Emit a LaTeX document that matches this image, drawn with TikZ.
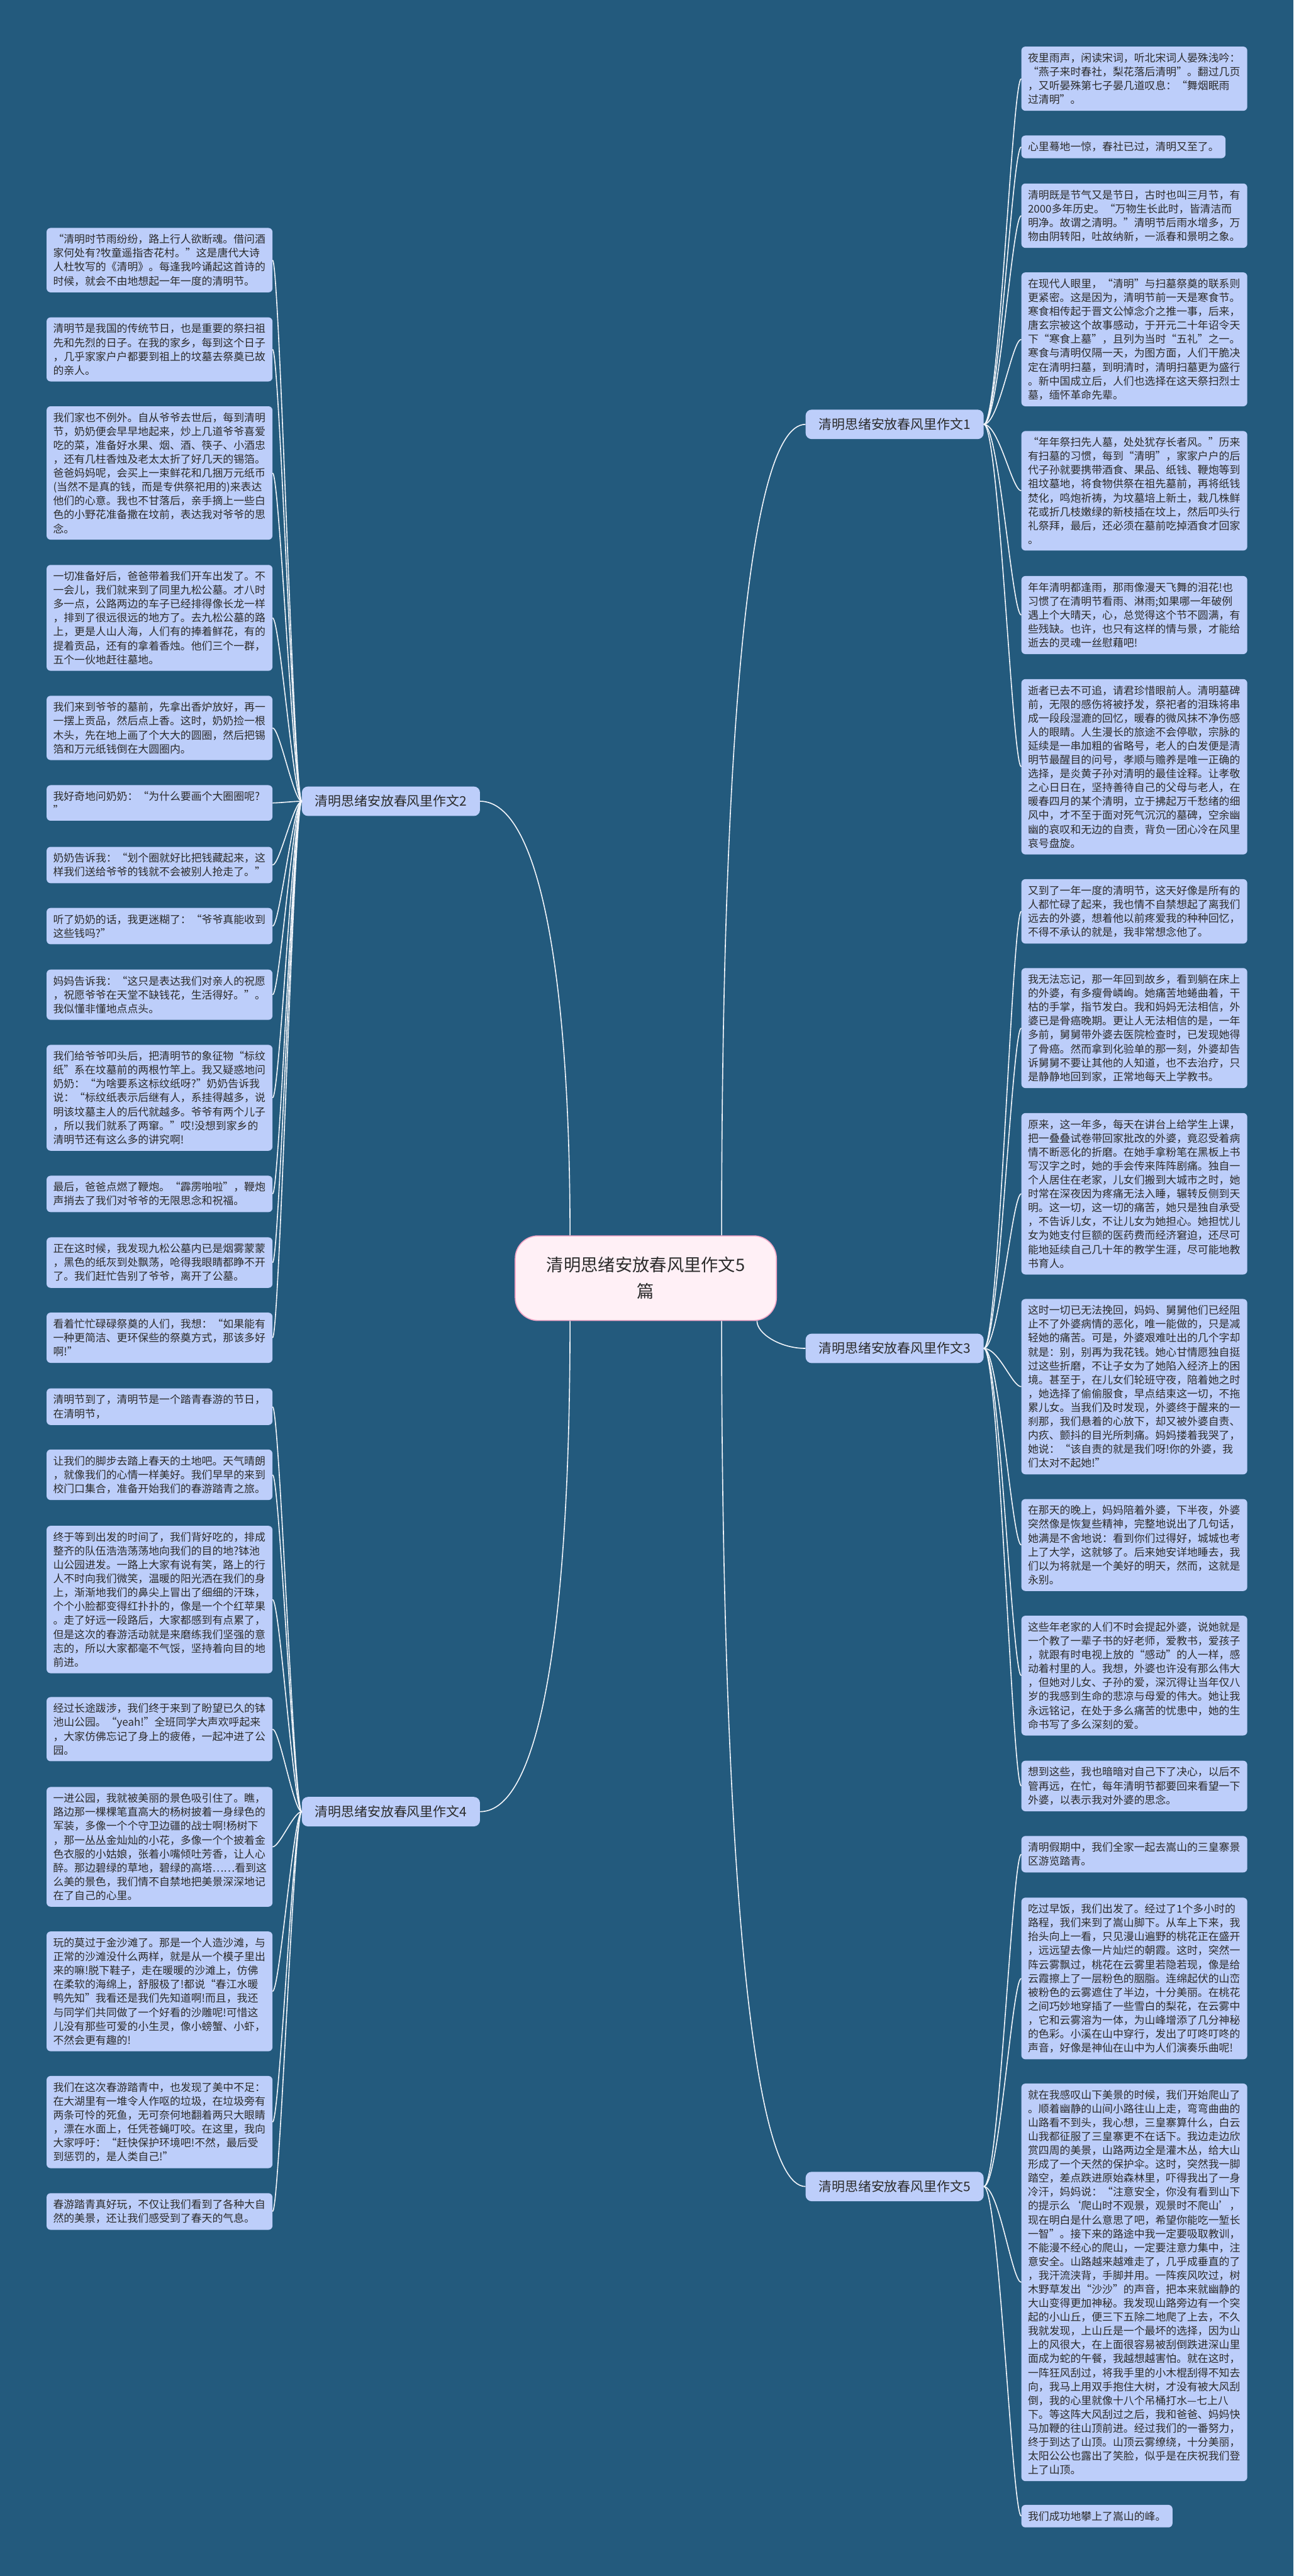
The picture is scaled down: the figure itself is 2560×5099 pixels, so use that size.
\documentclass[tikz,border=0pt]{standalone}
\usepackage{fontspec}
\setmainfont{Noto Sans CJK SC}
\usepackage{tikz}

\definecolor{bgblue}{HTML}{235A7D}
\definecolor{leafblue}{HTML}{BDCEFA}
\definecolor{textgray}{HTML}{2B2B2B}
\definecolor{linkwhite}{HTML}{F2F5FA}
\definecolor{rootpink}{HTML}{FFF0F6}
\definecolor{rootedge}{HTML}{F3A6C6}

\newcommand{\leaffont}{\fontsize{21}{27.5}\selectfont}
\newcommand{\branchfont}{\fontsize{26}{30}\selectfont}
\newcommand{\rootfont}{\fontsize{34}{52}\selectfont}

\begin{document}
\begin{tikzpicture}[x=1pt, y=-1pt,
                    leafbase/.style={fill=leafblue, text=textgray, rounded corners=8pt, align=left,
                                     anchor=north west, font=\leaffont, inner xsep=13pt, inner ysep=12.5pt},
                    leaf/.style={leafbase, text width=421pt},
                    branch/.style={fill=leafblue, text=textgray, rounded corners=12pt, font=\branchfont,
                                   inner xsep=26pt, inner ysep=17pt},
                    root/.style={fill=rootpink, draw=rootedge, line width=2pt, rounded corners=45pt,
                                 align=center, font=\rootfont, text=textgray, inner xsep=62pt, inner ysep=42pt},
                    link/.style={draw=linkwhite, line width=2pt}]
                    \fill[bgblue] (0,0) rectangle (2560,5099);
                    \useasboundingbox (0,0) rectangle (2560,5099);
                    % Nodes
                    \node[root] (c) at (1278,2530) {清明思绪安放春风里作文5\\篇};
                    \node[branch, anchor=west] (b1) at (1594,840) {清明思绪安放春风里作文1};
                    \node[branch, anchor=east] (b2) at (950,1586) {清明思绪安放春风里作文2};
                    \node[branch, anchor=west] (b3) at (1594,2669) {清明思绪安放春风里作文3};
                    \node[branch, anchor=east] (b4) at (950,3586) {清明思绪安放春风里作文4};
                    \node[branch, anchor=west] (b5) at (1594,4328) {清明思绪安放春风里作文5};
                    % Right leaves
                    \node[leaf] (r1) at (2021,92) {夜里雨声，闲读宋词，听北宋词人晏殊浅吟：\\“燕子来时春社，梨花落后清明”。翻过几页\\，又听晏殊第七子晏几道叹息：“舞烟眠雨\\过清明”。};
                    \node[leafbase] (r2) at (2021,268) {心里蓦地一惊，春社已过，清明又至了。};
                    \node[leaf] (r3) at (2021,363) {清明既是节气又是节日，古时也叫三月节，有\\2000多年历史。“万物生长此时，皆清洁而\\明净。故谓之清明。”清明节后雨水增多，万\\物由阴转阳，吐故纳新，一派春和景明之象。};
                    \node[leaf] (r4) at (2021,539) {在现代人眼里，“清明”与扫墓祭奠的联系则\\更紧密。这是因为，清明节前一天是寒食节。\\寒食相传起于晋文公悼念介之推一事，后来，\\唐玄宗被这个故事感动，于开元二十年诏令天\\下“寒食上墓”，且列为当时“五礼”之一。\\寒食与清明仅隔一天，为图方面，人们干脆决\\定在清明扫墓，到明清时，清明扫墓更为盛行\\。新中国成立后，人们也选择在这天祭扫烈士\\墓，缅怀革命先辈。};
                    \node[leaf] (r5) at (2021,853) {“年年祭扫先人墓，处处犹存长者风。”历来\\有扫墓的习惯，每到“清明”，家家户户的后\\代子孙就要携带酒食、果品、纸钱、鞭炮等到\\祖坟墓地，将食物供祭在祖先墓前，再将纸钱\\焚化，鸣炮祈祷，为坟墓培上新土，栽几株鲜\\花或折几枝嫩绿的新枝插在坟上，然后叩头行\\礼祭拜，最后，还必须在墓前吃掉酒食才回家\\。};
                    \node[leaf] (r6) at (2021,1140) {年年清明都逢雨，那雨像漫天飞舞的泪花!也\\习惯了在清明节看雨、淋雨;如果哪一年破例\\遇上个大晴天，心，总觉得这个节不圆满，有\\些残缺。也许，也只有这样的情与景，才能给\\逝去的灵魂一丝慰藉吧!};
                    \node[leaf] (r7) at (2021,1344) {逝者已去不可追，请君珍惜眼前人。清明墓碑\\前，无限的感伤将被抒发，祭祀者的泪珠将串\\成一段段湿漉的回忆，暖春的微风抹不净伤感\\人的眼睛。人生漫长的旅途不会停歇，宗脉的\\延续是一串加粗的省略号，老人的白发便是清\\明节最醒目的问号，孝顺与赡养是唯一正确的\\选择，是炎黄子孙对清明的最佳诠释。让孝敬\\之心日日在，坚持善待自己的父母与老人，在\\暖春四月的某个清明，立于拂起万千愁绪的细\\风中，才不至于面对死气沉沉的墓碑，空余幽\\幽的哀叹和无边的自责，背负一团心冷在风里\\哀号盘旋。};
                    \node[leaf] (r8) at (2021,1740) {又到了一年一度的清明节，这天好像是所有的\\人都忙碌了起来，我也情不自禁想起了离我们\\远去的外婆，想着他以前疼爱我的种种回忆，\\不得不承认的就是，我非常想念他了。};
                    \node[leaf] (r9) at (2021,1916) {我无法忘记，那一年回到故乡，看到躺在床上\\的外婆，有多瘦骨嶙峋。她痛苦地蜷曲着，干\\枯的手掌，指节发白。我和妈妈无法相信，外\\婆已是骨癌晚期。更让人无法相信的是，一年\\多前，舅舅带外婆去医院检查时，已发现她得\\了骨癌。然而拿到化验单的那一刻，外婆却告\\诉舅舅不要让其他的人知道，也不去治疗，只\\是静静地回到家，正常地每天上学教书。};
                    \node[leaf] (r10) at (2021,2203) {原来，这一年多，每天在讲台上给学生上课，\\把一叠叠试卷带回家批改的外婆，竟忍受着病\\情不断恶化的折磨。在她手拿粉笔在黑板上书\\写汉字之时，她的手会传来阵阵剧痛。独自一\\个人居住在老家，儿女们搬到大城市之时，她\\时常在深夜因为疼痛无法入睡，辗转反侧到天\\明。这一切，这一切的痛苦，她只是独自承受\\，不告诉儿女，不让儿女为她担心。她担忧儿\\女为她支付巨额的医药费而经济窘迫，还尽可\\能地延续自己几十年的教学生涯，尽可能地教\\书育人。};
                    \node[leaf] (r11) at (2021,2571) {这时一切已无法挽回，妈妈、舅舅他们已经阻\\止不了外婆病情的恶化，唯一能做的，只是减\\轻她的痛苦。可是，外婆艰难吐出的几个字却\\就是：别，别再为我花钱。她心甘情愿独自挺\\过这些折磨，不让子女为了她陷入经济上的困\\境。甚至于，在儿女们轮班守夜，陪着她之时\\，她选择了偷偷服食，早点结束这一切，不拖\\累儿女。当我们及时发现，外婆终于醒来的一\\刹那，我们悬着的心放下，却又被外婆自责、\\内疚、颤抖的目光所刺痛。妈妈搂着我哭了，\\她说：“该自责的就是我们呀!你的外婆，我\\们太对不起她!”};
                    \node[leaf] (r12) at (2021,2967) {在那天的晚上，妈妈陪着外婆，下半夜，外婆\\突然像是恢复些精神，完整地说出了几句话，\\她满是不舍地说：看到你们过得好，城城也考\\上了大学，这就够了。后来她安详地睡去，我\\们以为将就是一个美好的明天，然而，这就是\\永别。};
                    \node[leaf] (r13) at (2021,3198) {这些年老家的人们不时会提起外婆，说她就是\\一个教了一辈子书的好老师，爱教书，爱孩子\\，就跟有时电视上放的“感动”的人一样，感\\动着村里的人。我想，外婆也许没有那么伟大\\，但她对儿女、子孙的爱，深沉得让当年仅八\\岁的我感到生命的悲凉与母爱的伟大。她让我\\永远铭记，在处于多么痛苦的忧患中，她的生\\命书写了多么深刻的爱。};
                    \node[leaf] (r14) at (2021,3485) {想到这些，我也暗暗对自己下了决心，以后不\\管再远，在忙，每年清明节都要回来看望一下\\外婆，以表示我对外婆的思念。};
                    \node[leaf] (r15) at (2021,3634) {清明假期中，我们全家一起去嵩山的三皇寨景\\区游览踏青。};
                    \node[leaf] (r16) at (2021,3756) {吃过早饭，我们出发了。经过了1个多小时的\\路程，我们来到了嵩山脚下。从车上下来，我\\抬头向上一看，只见漫山遍野的桃花正在盛开\\，远远望去像一片灿烂的朝霞。这时，突然一\\阵云雾飘过，桃花在云雾里若隐若现，像是给\\云霞擦上了一层粉色的胭脂。连绵起伏的山峦\\被粉色的云雾遮住了半边，十分美丽。在桃花\\之间巧妙地穿插了一些雪白的梨花，在云雾中\\，它和云雾溶为一体，为山峰增添了几分神秘\\的色彩。小溪在山中穿行，发出了叮咚叮咚的\\声音，好像是神仙在山中为人们演奏乐曲呢!};
                    \node[leaf] (r17) at (2021,4124) {就在我感叹山下美景的时候，我们开始爬山了\\。顺着幽静的山间小路往山上走，弯弯曲曲的\\山路看不到头，我心想，三皇寨算什么，白云\\山我都征服了三皇寨更不在话下。我边走边欣\\赏四周的美景，山路两边全是灌木丛，给大山\\形成了一个天然的保护伞。这时，突然我一脚\\踏空，差点跌进原始森林里，吓得我出了一身\\冷汗，妈妈说：“注意安全，你没有看到山下\\的提示么‘爬山时不观景，观景时不爬山’，\\现在明白是什么意思了吧，希望你能吃一堑长\\一智”。接下来的路途中我一定要吸取教训，\\不能漫不经心的爬山，一定要注意力集中，注\\意安全。山路越来越难走了，几乎成垂直的了\\，我汗流浃背，手脚并用。一阵疾风吹过，树\\木野草发出“沙沙”的声音，把本来就幽静的\\大山变得更加神秘。我发现山路旁边有一个突\\起的小山丘，便三下五除二地爬了上去，不久\\我就发现，上山丘是一个最坏的选择，因为山\\上的风很大，在上面很容易被刮倒跌进深山里\\面成为蛇的午餐，我越想越害怕。就在这时，\\一阵狂风刮过，将我手里的小木棍刮得不知去\\向，我马上用双手抱住大树，才没有被大风刮\\倒，我的心里就像十八个吊桶打水—七上八\\下。等这阵大风刮过之后，我和爸爸、妈妈快\\马加鞭的往山顶前进。经过我们的一番努力，\\终于到达了山顶。山顶云雾缭绕，十分美丽，\\太阳公公也露出了笑脸，似乎是在庆祝我们登\\上了山顶。};
                    \node[leafbase] (r18) at (2021,4958) {我们成功地攀上了嵩山的峰。};
                    % Left leaves
                    \node[leaf] (l1) at (92,451) {“清明时节雨纷纷，路上行人欲断魂。借问酒\\家何处有?牧童遥指杏花村。”这是唐代大诗\\人杜牧写的《清明》。每逢我吟诵起这首诗的\\时候，就会不由地想起一年一度的清明节。};
                    \node[leaf] (l2) at (92,628) {清明节是我国的传统节日，也是重要的祭扫祖\\先和先烈的日子。在我的家乡，每到这个日子\\，几乎家家户户都要到祖上的坟墓去祭奠已故\\的亲人。};
                    \node[leaf] (l3) at (92,804) {我们家也不例外。自从爷爷去世后，每到清明\\节，奶奶便会早早地起来，炒上几道爷爷喜爱\\吃的菜，准备好水果、烟、酒、筷子、小酒忠\\，还有几柱香烛及老太太折了好几天的锡箔。\\爸爸妈妈呢，会买上一束鲜花和几捆万元纸币\\(当然不是真的钱，而是专供祭祀用的)来表达\\他们的心意。我也不甘落后，亲手摘上一些白\\色的小野花准备撒在坟前，表达我对爷爷的思\\念。};
                    \node[leaf] (l4) at (92,1118) {一切准备好后，爸爸带着我们开车出发了。不\\一会儿，我们就来到了同里九松公墓。才八时\\多一点，公路两边的车子已经排得像长龙一样\\，排到了很远很远的地方了。去九松公墓的路\\上，更是人山人海，人们有的捧着鲜花，有的\\提着贡品，还有的拿着香烛。他们三个一群，\\五个一伙地赶往墓地。};
                    \node[leaf] (l5) at (92,1377) {我们来到爷爷的墓前，先拿出香炉放好，再一\\一摆上贡品，然后点上香。这时，奶奶捡一根\\木头，先在地上画了个大大的圆圈，然后把锡\\箔和万元纸钱倒在大圆圈内。};
                    \node[leaf] (l6) at (92,1554) {我好奇地问奶奶：“为什么要画个大圈圈呢?\\”};
                    \node[leaf] (l7) at (92,1676) {奶奶告诉我：“划个圈就好比把钱藏起来，这\\样我们送给爷爷的钱就不会被别人抢走了。”};
                    \node[leaf] (l8) at (92,1797) {听了奶奶的话，我更迷糊了：“爷爷真能收到\\这些钱吗?”};
                    \node[leaf] (l9) at (92,1919) {妈妈告诉我：“这只是表达我们对亲人的祝愿\\，祝愿爷爷在天堂不缺钱花，生活得好。”。\\我似懂非懂地点点头。};
                    \node[leaf] (l10) at (92,2068) {我们给爷爷叩头后，把清明节的象征物“标纹\\纸”系在坟墓前的两根竹竿上。我又疑惑地问\\奶奶：“为啥要系这标纹纸呀?”奶奶告诉我\\说：“标纹纸表示后继有人，系挂得越多，说\\明该坟墓主人的后代就越多。爷爷有两个儿子\\，所以我们就系了两窜。”哎!没想到家乡的\\清明节还有这么多的讲究啊!};
                    \node[leaf] (l11) at (92,2327) {最后，爸爸点燃了鞭炮。“霹雳啪啦”，鞭炮\\声捎去了我们对爷爷的无限思念和祝福。};
                    \node[leaf] (l12) at (92,2449) {正在这时候，我发现九松公墓内已是烟雾蒙蒙\\，黑色的纸灰到处飘荡，呛得我眼睛都睁不开\\了。我们赶忙告别了爷爷，离开了公墓。};
                    \node[leaf] (l13) at (92,2598) {看着忙忙碌碌祭奠的人们，我想：“如果能有\\一种更简洁、更环保些的祭奠方式，那该多好\\啊!”};
                    \node[leaf] (l14) at (92,2748) {清明节到了，清明节是一个踏青春游的节日，\\在清明节，};
                    \node[leaf] (l15) at (92,2869) {让我们的脚步去踏上春天的土地吧。天气晴朗\\，就像我们的心情一样美好。我们早早的来到\\校门口集合，准备开始我们的春游踏青之旅。};
                    \node[leaf] (l16) at (92,3020) {终于等到出发的时间了，我们背好吃的，排成\\整齐的队伍浩浩荡荡地向我们的目的地?钵池\\山公园进发。一路上大家有说有笑，路上的行\\人不时向我们微笑，温暖的阳光洒在我们的身\\上，渐渐地我们的鼻尖上冒出了细细的汗珠，\\个个小脸都变得红扑扑的，像是一个个红苹果\\。走了好远一段路后，大家都感到有点累了，\\但是这次的春游活动就是来磨练我们坚强的意\\志的，所以大家都毫不气馁，坚持着向目的地\\前进。};
                    \node[leaf] (l17) at (92,3359) {经过长途跋涉，我们终于来到了盼望已久的钵\\池山公园。“yeah!”全班同学大声欢呼起来\\，大家仿佛忘记了身上的疲倦，一起冲进了公\\园。};
                    \node[leaf] (l18) at (92,3537) {一进公园，我就被美丽的景色吸引住了。瞧，\\路边那一棵棵笔直高大的杨树披着一身绿色的\\军装，多像一个个守卫边疆的战士啊!杨树下\\，那一丛丛金灿灿的小花，多像一个个披着金\\色衣服的小姑娘，张着小嘴倾吐芳香，让人心\\醉。那边碧绿的草地，碧绿的高塔……看到这\\么美的景色，我们情不自禁地把美景深深地记\\在了自己的心里。};
                    \node[leaf] (l19) at (92,3823) {玩的莫过于金沙滩了。那是一个人造沙滩，与\\正常的沙滩没什么两样，就是从一个模子里出\\来的嘛!脱下鞋子，走在暖暖的沙滩上，仿佛\\在柔软的海绵上，舒服极了!都说“春江水暖\\鸭先知”我看还是我们先知道啊!而且，我还\\与同学们共同做了一个好看的沙雕呢!可惜这\\儿没有那些可爱的小生灵，像小螃蟹、小虾，\\不然会更有趣的!};
                    \node[leaf] (l20) at (92,4109) {我们在这次春游踏青中，也发现了美中不足：\\在大湖里有一堆令人作呕的垃圾，在垃圾旁有\\两条可怜的死鱼，无可奈何地翻着两只大眼睛\\，漂在水面上，任凭苍蝇叮咬。在这里，我向\\大家呼吁：“赶快保护环境吧!不然，最后受\\到惩罚的，是人类自己!”};
                    \node[leaf] (l21) at (92,4341) {春游踏青真好玩，不仅让我们看到了各种大自\\然的美景，还让我们感受到了春天的气息。};
                    % Edges
                    \draw[link] ([xshift=150pt]c.north) .. controls +(0,-900) and +(-120,0) .. (b1.west);
                    \draw[link] ([xshift=-150pt]c.north) .. controls +(0,-500) and +(120,0) .. (b2.east);
                    \draw[link] ([xshift=220pt]c.south) .. controls +(0,25) and +(-50,0) .. (b3.west);
                    \draw[link] ([xshift=-150pt]c.south) .. controls +(0,600) and +(120,0) .. (b4.east);
                    \draw[link] ([xshift=150pt]c.south) .. controls +(0,900) and +(-120,0) .. (b5.west);
                    \foreach \i in {1,...,7}
                        \draw[link] (b1.east) .. controls +(30,0) and +(-18,0) .. (r\i.west);
                    \foreach \i in {8,...,14}
                        \draw[link] (b3.east) .. controls +(30,0) and +(-18,0) .. (r\i.west);
                    \foreach \i in {15,...,18}
                        \draw[link] (b5.east) .. controls +(30,0) and +(-18,0) .. (r\i.west);
                    \foreach \i in {1,...,13}
                        \draw[link] (b2.west) .. controls +(-16,0) and +(14,0) .. (l\i.east);
                    \foreach \i in {14,...,21}
                        \draw[link] (b4.west) .. controls +(-16,0) and +(14,0) .. (l\i.east);
                \end{tikzpicture}
\end{document}
